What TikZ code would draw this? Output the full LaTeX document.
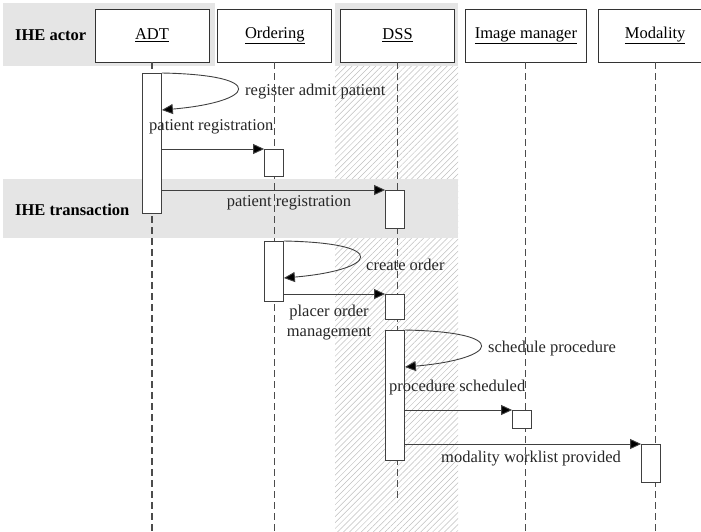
\documentclass[tikz,border=0pt]{standalone}
\usepackage{fontspec}
\setmainfont{Liberation Serif}
\usepackage{tikz}
\usetikzlibrary{arrows.meta,positioning,patterns.meta}

\begin{document}
\begin{tikzpicture}[x=1pt,y=-1pt,node distance=8pt,
  font=\fontsize{16.5}{20}\selectfont,
  actor/.style={draw=black!80,fill=white,line width=0.8pt,minimum width=114pt,minimum height=53pt,inner sep=0pt},
  bar/.style={draw=black!75,fill=white,line width=0.8pt,anchor=north,minimum width=19pt,inner sep=0pt},
  life/.style={draw=black!70,line width=1.1pt,dash pattern=on 7pt off 4pt},
  msg/.style={draw=black!75,line width=0.9pt,-{Triangle[length=11pt,width=10pt,fill=black]}},
  band/.style={fill=black!10,draw=none},
  lbl/.style={inner sep=0pt,anchor=west,text=black!85}]
  \clip (0,0) rectangle (701,531);
  % shaded areas
  \fill[pattern={Lines[angle=45,distance=4.2pt,line width=0.5pt]},pattern color=black!25] (335,66) rectangle (458,531);
  \fill[band] (3,3) rectangle (215,66);
  \fill[band] (335,3) rectangle (458,66);
  \fill[band] (3,179) rectangle (458,238);
  \node[inner sep=0pt,anchor=west,font=\fontsize{16.5}{20}\selectfont\bfseries] (actorlbl) at (15,35.5) {IHE actor};
  \node[inner sep=0pt,anchor=west,font=\fontsize{16.5}{20}\selectfont\bfseries] (translbl) at (15,210) {IHE transaction};
  % actors
  \node[actor] (adt) at (152,35.5) {\underline{ADT}};
  \node[actor,right=of adt] (ord) {\underline{Ordering}};
  \node[actor,right=of ord] (dss) {\underline{DSS}};
  \node[actor,minimum width=121pt,right=10pt of dss] (img) {\underline{Image manager}};
  \node[actor,right=11pt of img] (mod) {\underline{Modality}};
  % lifelines
  \draw[life] (adt.south) -- +(0,470);
  \draw[life] (ord.south) -- +(0,470);
  \draw[life] (dss.south) -- +(0,440);
  \draw[life] (img.south) -- +(0,470);
  \draw[life] (mod.south) -- +(0,470);
  % activations
  \node[bar,minimum height=140pt] (adtA) at (152,73) {};
  \node[bar,minimum height=27pt] (ordA) at (274,149) {};
  \node[bar,minimum height=38pt] (dssA) at (395,190) {};
  \node[bar,minimum height=60pt] (ordB) at (274,241) {};
  \node[bar,minimum height=25pt] (dssB) at (395,294) {};
  \node[bar,minimum height=130pt] (dssC) at (395,330) {};
  \node[bar,minimum height=18pt] (imgA) at (522,410) {};
  \node[bar,minimum height=38pt] (modA) at (651,444) {};
  % messages
  \draw[msg] (adtA.north east) .. controls +(108,2) and +(93,-8) .. ([yshift=-37pt]adtA.north east);
  \draw[msg] (adtA.east |- ordA.north west) -- (ordA.north west);
  \draw[msg] (adtA.east |- dssA.north west) -- (dssA.north west);
  \draw[msg] (ordB.north east) .. controls +(108,2) and +(93,-8) .. ([yshift=-37pt]ordB.north east);
  \draw[msg] (ordB.east |- dssB.north west) -- (dssB.north west);
  \draw[msg] (dssC.north east) .. controls +(108,2) and +(93,-8) .. ([yshift=-37pt]dssC.north east);
  \draw[msg] (dssC.east |- imgA.north west) -- (imgA.north west);
  \draw[msg] (dssC.east |- modA.north west) -- (modA.north west);
  % labels
  \node[lbl] (regadmit) at (245,92) {register admit patient};
  \node[lbl] (patreg) at (149,127) {patient registration};
  \node[lbl,anchor=center] (patreg2) at (289,203) {patient registration};
  \node[lbl] (create) at (366,265) {create order};
  \node[lbl,anchor=center,align=center] (placer) at (329,323) {placer order\\management};
  \node[lbl] (schedule) at (488,349) {schedule procedure};
  \node[lbl] (scheduled) at (389,388) {procedure scheduled};
  \node[lbl] (worklist) at (441,459) {modality worklist provided};
\end{tikzpicture}
\end{document}
